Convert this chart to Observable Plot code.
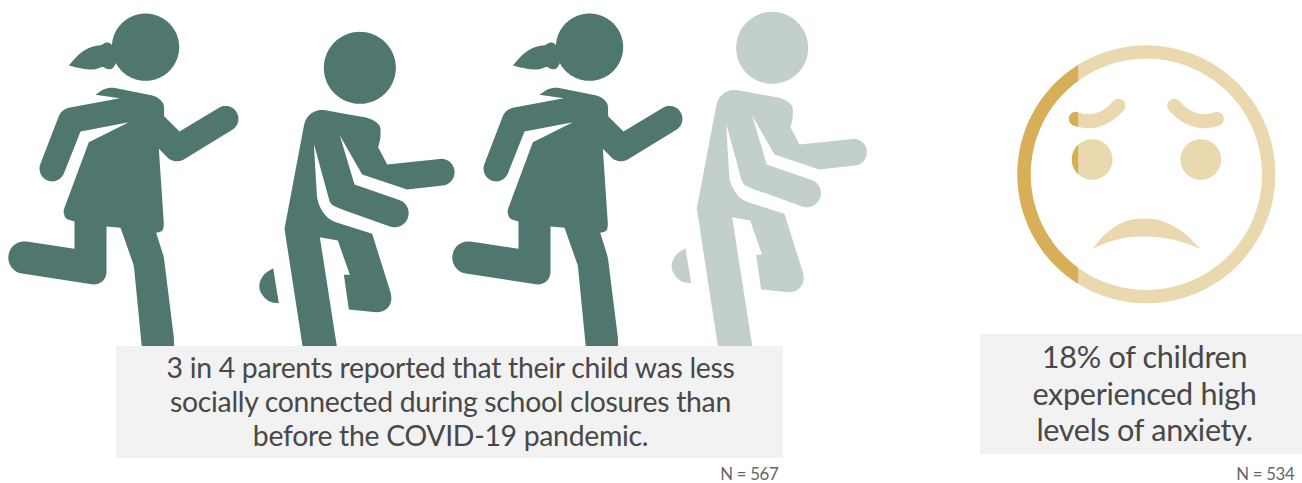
<!DOCTYPE html>
<html>
<head>
<meta charset="utf-8">
<script src="https://cdn.jsdelivr.net/npm/d3@7"></script>
<script src="https://cdn.jsdelivr.net/npm/@observablehq/plot@0.6"></script>
<style>
  html, body { margin: 0; padding: 0; background: #fff; }
  svg { display: block; }
</style>
</head>
<body>
<div id="chart"></div>
<script>
// Survey results shown by the two pictograms
const parentsReporting = 3;
const parentsOutOf = 4;
const anxiousShare = 18;

const connectionLines = [
  "3 in 4 parents reported that their child was less",
  "socially connected during school closures than",
  "before the COVID-19 pandemic."
];
const anxietyLines = ["18% of children", "experienced high", "levels of anxiety."];
const sampleLabels = ["N = 567", "N = 534"];

// Figure poses alternate along the row
const figurePoses = ["girl", "boy", "girl", "boy"];

const ink = {
  filled: "#4f766f",
  unfilled: "#c2cfcd",
  facePale: "#ead8ae",
  faceStrong: "#d7af59",
  box: "#f2f2f2",
  text: "#484848",
  note: "#666666"
};

// Icon outlines are drawn at three units per pixel. A third value rounds that corner.
const UNIT = 1 / 3;

const girlHead = [435, 140, 101];
const girlTail = [
  [205, 195], [235, 160, 20], [270, 138, 25], [303, 134, 6], [318, 124, 8], [334, 130, 8],
  [346, 190], [335, 206, 6], [318, 206, 6], [308, 198, 5], [280, 209, 20], [240, 204, 20]
];
const girlBody = [
  [285, 283], [310, 265, 12], [335, 261, 5], [490, 292, 38], [491, 347],
  [537, 393], [688, 302, 38], [728, 368, 38], [523, 493, 30], [475, 445], [490, 670],
  [488, 692, 10], [467, 697], [490, 770, 8], [520, 1010], [522, 1080], [428, 1080],
  [400, 795, 8], [360, 682], [318, 678], [318, 858, 45], [17, 812, 48], [31, 716, 48],
  [222, 745], [222, 663], [195, 655, 8], [188, 632, 8], [265, 425],
  [385, 365], [240, 393], [176, 554, 38], [106, 526, 38], [183, 326, 22], [358, 293]
];

const boyHead = [328, 142, 108];
const boyBody = [
  [172, 1080], [102, 625], [171, 259, 55], [290, 281], [390, 299, 48], [390, 352, 8], [383, 380],
  [410, 432], [608, 411, 40], [616, 491, 40], [470, 507], [335, 462], [268, 345], [312, 492],
  [486, 552, 42], [458, 632, 42], [270, 565, 14], [240, 552, 12], [190, 370], [200, 540, 16],
  [218, 580, 30], [245, 602, 14], [365, 640], [441, 882, 72], [295, 867], [280, 763], [298, 763],
  [262, 660], [208, 650], [275, 1080]
];
const boyFoot = [
  [68, 743], [40, 760, 14], [22, 795, 22], [36, 828, 18], [60, 846, 12], [85, 848]
];

// Each figure's origin in chart pixels
const figureOrigins = {girl: [[0, 0], [444, 0]], boy: [[250, 20], [662.3, 0]]};

// Face outlines share the icon units, measured from the face's own origin
const faceOrigin = [1000, 30];
const faceCentre = [437.5, 431.5];
const faceOuterR = 387;
const faceInnerR = 347;
const eyes = [[275, 387, 61], [601, 387, 61]];
const browHalfWidth = 21;
const browLeftPath = [[226, 265], [295, 290], [354, 226]];
const browRightPath = [[649, 265], [580, 290], [521, 226]];
const mouth = [
  [275, 655], [335, 585, 50], [430, 555, 70], [530, 585, 70], [600, 655], [520, 625, 60],
  [430, 615, 60], [345, 625, 60]
];

// Replaces rounded corners with a short sampled curve
function rounded(points) {
  const out = [];
  const n = points.length;
  const k = 0.5523;
  points.forEach(([x, y, r], i) => {
    if (!r) { out.push([x, y]); return; }
    const [ax, ay] = points[(i + n - 1) % n];
    const [bx, by] = points[(i + 1) % n];
    const la = Math.hypot(ax - x, ay - y);
    const lb = Math.hypot(bx - x, by - y);
    const ra = Math.min(r, la / 2) / la;
    const rb = Math.min(r, lb / 2) / lb;
    const p0 = [x + (ax - x) * ra, y + (ay - y) * ra];
    const p3 = [x + (bx - x) * rb, y + (by - y) * rb];
    const c1 = [p0[0] + (x - p0[0]) * k, p0[1] + (y - p0[1]) * k];
    const c2 = [p3[0] + (x - p3[0]) * k, p3[1] + (y - p3[1]) * k];
    for (let s = 0; s <= 12; s++) {
      const t = s / 12, u = 1 - t;
      out.push([0, 1].map(d =>
        u * u * u * p0[d] + 3 * u * u * t * c1[d] + 3 * u * t * t * c2[d] + t * t * t * p3[d]
      ));
    }
  });
  return out;
}

function circle(cx, cy, r) {
  return d3.range(0, 121).map(i => {
    const a = 2 * Math.PI * i / 120;
    return [cx + r * Math.cos(a), cy + r * Math.sin(a)];
  });
}

// Outline of a round-capped band of the given half width along a quadratic curve
function band([a, c, b], w) {
  const steps = 40;
  const upper = [];
  const lower = [];
  let tangent = 0, first = 0;
  d3.range(steps + 1).forEach(i => {
    const t = i / steps, u = 1 - t;
    const x = u * u * a[0] + 2 * u * t * c[0] + t * t * b[0];
    const y = u * u * a[1] + 2 * u * t * c[1] + t * t * b[1];
    tangent = Math.atan2(2 * u * (c[1] - a[1]) + 2 * t * (b[1] - c[1]), 2 * u * (c[0] - a[0]) + 2 * t * (b[0] - c[0]));
    if (i === 0) first = tangent;
    upper.push([x + w * Math.sin(tangent), y - w * Math.cos(tangent)]);
    lower.push([x - w * Math.sin(tangent), y + w * Math.cos(tangent)]);
  });
  const cap = ([x, y], angle) => d3.range(1, 12).map(i => {
    const q = angle - Math.PI / 2 + Math.PI * i / 12;
    return [x + w * Math.cos(q), y + w * Math.sin(q)];
  });
  return [...upper, ...cap(b, tangent), ...lower.reverse(), ...cap(a, first + Math.PI)];
}

const place = ([ox, oy], points) => points.map(([x, y]) => ({x: ox + x * UNIT, y: oy + y * UNIT}));

// Keeps the part of a closed outline to the left of a vertical line
function clipLeft(points, limit) {
  const out = [];
  points.forEach((p, i) => {
    const q = points[(i + 1) % points.length];
    const pIn = p.x <= limit;
    const qIn = q.x <= limit;
    if (pIn) out.push(p);
    if (pIn !== qIn) {
      const t = (limit - p.x) / (q.x - p.x);
      out.push({x: limit, y: p.y + (q.y - p.y) * t});
    }
  });
  return out;
}

// Where a vertical line leaves the given share of a disc's area to its left, as a distance from the left edge
function segmentDepth(share, radius) {
  const area = h => {
    const u = 1 - h;
    return (Math.acos(u) - u * Math.sqrt(1 - u * u)) / Math.PI;
  };
  let lo = 0, hi = 1;
  for (let i = 0; i < 40; i++) {
    const mid = (lo + hi) / 2;
    if (area(mid) < share) lo = mid; else hi = mid;
  }
  return lo * radius;
}

const shape = (points, fill) => Plot.line(points, {
  x: "x", y: "y", fill, stroke: "none", curve: "linear-closed"
});

const figureMarks = [];
const poseCount = {girl: 0, boy: 0};
figurePoses.forEach((pose, i) => {
  const origin = figureOrigins[pose][poseCount[pose]++];
  const fill = i < parentsReporting && i < parentsOutOf ? ink.filled : ink.unfilled;
  if (pose === "girl") {
    figureMarks.push(
      shape(place(origin, circle(...girlHead)), fill),
      shape(place(origin, rounded(girlTail)), fill),
      shape(place(origin, rounded(girlBody)), fill)
    );
  } else {
    figureMarks.push(
      shape(place(origin, circle(...boyHead)), fill),
      shape(place(origin, rounded(boyBody)), fill),
      shape(place(origin, rounded(boyFoot)), fill)
    );
  }
});

// Face: a ring, two eyes, brows and a mouth, with the share tinted from the left
const [cx, cy] = faceCentre;
const ring = [...circle(cx, cy, faceOuterR), ...circle(cx, cy, faceInnerR).reverse()];
const faceParts = [
  ring,
  ...eyes.map(e => circle(...e)),
  band(browLeftPath, browHalfWidth),
  band(browRightPath, browHalfWidth),
  rounded(mouth)
].map(p => place(faceOrigin, p));
const faceLeft = faceOrigin[0] + (cx - faceOuterR) * UNIT;
const cut = faceLeft + segmentDepth(anxiousShare / 100, faceOuterR * UNIT);

const faceMarks = [
  ...faceParts.map(p => shape(p, ink.facePale)),
  ...faceParts.map(p => clipLeft(p, cut)).filter(p => p.length).map(p => shape(p, ink.faceStrong))
];

const lineRows = (lines, x, y0, step) => lines.map((text, i) => ({text, x, y: y0 + i * step}));

const chart = Plot.plot({
  width: 1302,
  height: 483,
  margin: 0,
  style: {background: "#fff", fontFamily: "Lato", letterSpacing: "-0.3px"},
  x: {domain: [0, 1302], range: [0, 1302], axis: null},
  y: {domain: [0, 483], range: [0, 483], axis: null},
  marks: [
    ...figureMarks,
    ...faceMarks,
    Plot.rect([{x1: 116, x2: 783, y1: 346, y2: 458}, {x1: 980, x2: 1302, y1: 334, y2: 454}], {
      x1: "x1", x2: "x2", y1: "y1", y2: "y2", fill: ink.box
    }),
    Plot.text(lineRows(connectionLines, 450, 368, 34), {
      x: "x", y: "y", text: "text", fontSize: 28.4, fontFamily: "Lato", fill: ink.text, textAnchor: "middle"
    }),
    Plot.text(lineRows(anxietyLines, 1144, 358, 36.5), {
      x: "x", y: "y", text: "text", fontSize: 30.6, fontFamily: "Lato", fill: ink.text, textAnchor: "middle"
    }),
    Plot.text([{text: sampleLabels[0], x: 778, y: 474}, {text: sampleLabels[1], x: 1294, y: 474}], {
      x: "x", y: "y", text: "text", fontSize: 16.8, fontFamily: "Lato", fill: ink.note, textAnchor: "end"
    })
  ]
});
document.getElementById("chart").appendChild(chart);
</script>
</body>
</html>
